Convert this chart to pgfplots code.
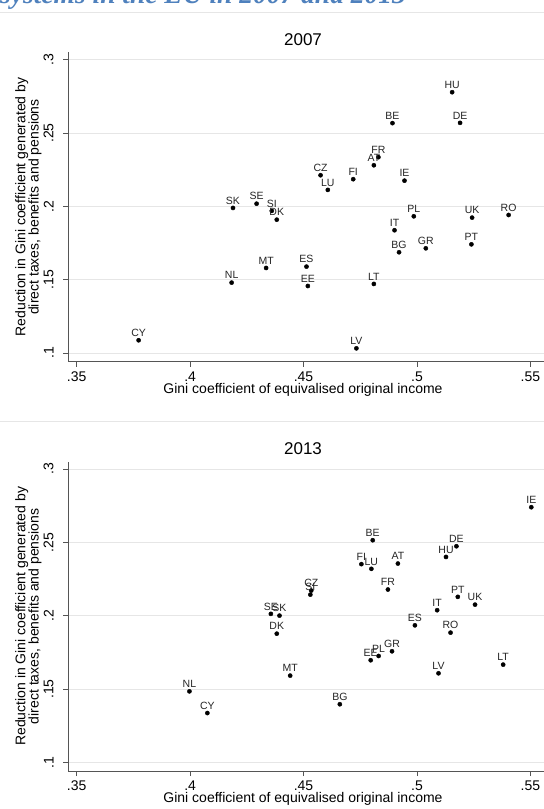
\documentclass[border=0pt]{standalone}
\usepackage{pgfplots}
\usepackage{pgfplotstable}
\pgfplotsset{compat=1.18}
\usepackage{fontspec}
\setmainfont{Liberation Sans}
\newfontfamily\titlefont{Liberation Serif}
\definecolor{titleblue}{HTML}{4F81BD}
\definecolor{gridc}{HTML}{E6E6E6}
\definecolor{axc}{HTML}{555555}

\pgfplotstableread{
lab x y
SK 0.4189 0.1989
SE 0.4293 0.2018
SI 0.4360 0.1969
DK 0.4382 0.1909
HU 0.5155 0.2778
DE 0.5190 0.2569
BE 0.4892 0.2567
FR 0.4830 0.2335
AT 0.4810 0.2280
CZ 0.4575 0.2212
LU 0.4607 0.2112
FI 0.4719 0.2185
IE 0.4945 0.2175
PL 0.4986 0.1932
UK 0.5243 0.1923
RO 0.5404 0.1941
IT 0.4901 0.1837
BG 0.4921 0.1687
GR 0.5039 0.1714
PT 0.5240 0.1741
ES 0.4513 0.1589
EE 0.4519 0.1457
LT 0.4810 0.1471
LV 0.4733 0.1032
MT 0.4335 0.1580
NL 0.4183 0.1480
CY 0.3773 0.1087
}\datatwoseven

\pgfplotstableread{
lab x y
SE 0.4356 0.2012
SK 0.4394 0.2000
DK 0.4382 0.1877
MT 0.4441 0.1591
NL 0.3997 0.1484
CY 0.4076 0.1336
IE 0.5504 0.2739
BE 0.4805 0.2514
DE 0.5174 0.2473
HU 0.5128 0.2400
FI 0.4755 0.2351
LU 0.4799 0.2319
AT 0.4916 0.2355
CZ 0.4534 0.2171
SI 0.4530 0.2143
FR 0.4872 0.2178
PT 0.5180 0.2128
UK 0.5256 0.2075
IT 0.5089 0.2037
ES 0.4991 0.1934
RO 0.5148 0.1884
GR 0.4890 0.1757
PL 0.4831 0.1725
EE 0.4796 0.1696
LV 0.5095 0.1607
LT 0.5380 0.1666
BG 0.4660 0.1396
}\datatwothirteen

\pgfplotsset{
  giniaxis/.style={
    scale only axis, width=475.7bp, height=309.4bp,
    xmin=0.3463, xmax=0.5560, ymin=0.0941, ymax=0.3050,
    axis lines*=left,
    axis line style={axc, line width=0.8bp},
    xtick={0.35,0.4,0.45,0.5,0.55}, xticklabels={.35,.4,.45,.5,.55},
    ytick={0.1,0.15,0.2,0.25,0.3}, yticklabels={.1,.15,.2,.25,.3},
    tick align=outside, major tick length=5bp,
    tick style={axc, line width=0.8bp},
    ymajorgrids, grid style={gridc, line width=0.8bp},
    tick label style={font=\fontsize{14bp}{16bp}\selectfont, text=black},
    xticklabel style={anchor=north, inner sep=0pt, yshift=-5bp},
    yticklabel style={rotate=90, anchor=south, inner sep=0pt, yshift=9.5bp},
    xlabel={Gini coefficient of equivalised original income},
    ylabel={Reduction in Gini coefficient generated by\\direct taxes, benefits and pensions},
    every axis x label/.style={at={(axis description cs:0.4934,0)}, yshift=-28.3bp, anchor=center,
      font=\fontsize{14bp}{16bp}\selectfont},
    every axis y label/.style={at={(axis description cs:-0.0839,0.5)}, rotate=90, anchor=center,
      align=center, font=\fontsize{14bp}{13.4bp}\selectfont},
    every axis title/.style={at={(axis description cs:0.4934,1)}, yshift=12.5bp, anchor=center,
      font=\fontsize{17bp}{20bp}\selectfont},
    clip=false,
  },
  ctry/.style={only marks, mark=*, mark size=2.1bp, black,
    nodes near coords, point meta=explicit symbolic,
    every node near coord/.style={font=\fontsize{10.5bp}{12bp}\selectfont, text=black!85,
      anchor=south, inner sep=0pt, yshift=3.5bp}},
}

\begin{document}
\begin{tikzpicture}
\useasboundingbox (0,0) rectangle (544bp,809bp);
\fill[white] (0,0) rectangle (544bp,809bp);
\node[anchor=base west, inner sep=0pt, text=titleblue,
  font=\titlefont\bfseries\itshape\fontsize{27.5bp}{30bp}\selectfont]
  at (0bp,805.5bp) {systems in the EU in 2007 and 2013};
\draw[gridc, line width=0.8bp] (0,796.7bp) -- (544bp,796.7bp);
\draw[gridc, line width=0.8bp] (0,388bp) -- (544bp,388bp);

\begin{axis}[giniaxis, at={(68.3bp,447.3bp)}, anchor=south west, title={2007}]
\addplot[ctry] table[x=x, y=y, meta=lab] {\datatwoseven};
\end{axis}

\begin{axis}[giniaxis, at={(68.3bp,38bp)}, anchor=south west, title={2013}]
\addplot[ctry] table[x=x, y=y, meta=lab] {\datatwothirteen};
\end{axis}
\end{tikzpicture}
\end{document}
